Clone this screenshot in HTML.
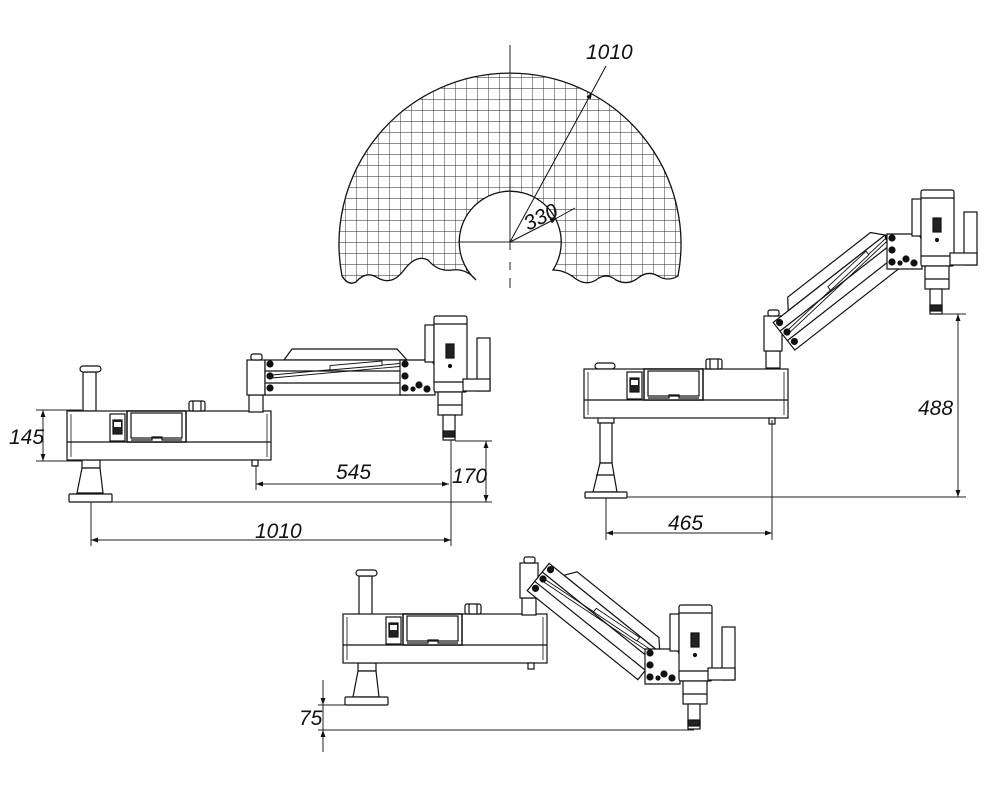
<!DOCTYPE html>
<html><head><meta charset="utf-8"><style>
html,body{margin:0;padding:0;background:#fff;}
svg{display:block;}
text{font-family:"Liberation Sans",sans-serif;font-style:italic;font-size:21px;fill:#111;}
</style></head><body>
<svg width="1000" height="790" viewBox="0 0 1000 790" xmlns="http://www.w3.org/2000/svg">
<defs>
<pattern id="grid" x="510" y="242" width="11" height="11" patternUnits="userSpaceOnUse">
<path d="M0 0H11M0 0V11" stroke="#222" stroke-width="0.9" fill="none"/>
</pattern>
<marker id="ar" viewBox="0 0 10 10" refX="10" refY="5" markerWidth="9" markerHeight="7" orient="auto-start-reverse" markerUnits="userSpaceOnUse">
<path d="M0 1.5L10 5L0 8.5z" fill="#111"/>
</marker>

<g id="box" stroke="#111" stroke-width="1.2" fill="#fff">
<rect x="0" y="0" width="204" height="49"/>
<line x1="0" y1="31" x2="204" y2="31"/>
<line x1="4" y1="3" x2="4" y2="46" stroke-width="0.8"/>
<line x1="200" y1="3" x2="200" y2="46" stroke-width="0.8"/>
<rect x="43" y="3" width="15" height="27"/>
<rect x="46" y="9" width="9" height="14" fill="#222"/>
<rect x="47" y="11" width="7" height="5" fill="#fff" stroke="none"/>
<rect x="60" y="0" width="59" height="31" stroke-width="1.5"/>
<rect x="64" y="2" width="51" height="25"/>
<path d="M64 29H85V26H95V29H115" fill="none"/>
<rect x="122" y="-10" width="16" height="10" rx="2"/>
<line x1="126" y1="-10" x2="126" y2="0"/><line x1="134" y1="-10" x2="134" y2="0"/>
<rect x="185" y="49" width="6" height="6"/>
</g>

<g id="col" stroke="#111" stroke-width="1.2" fill="#fff">
<rect x="-21" y="19" width="14" height="17"/>
<rect x="-23" y="-16" width="18" height="35"/>
<rect x="-19" y="-22" width="11" height="6" rx="2"/>
</g>

<g id="arm" stroke="#111" stroke-width="1.2" fill="#fff">
<path d="M14 -16 L22 -27 H127 L137 -16 Z"/>
<rect x="-5" y="-16" width="142" height="35"/>
<line x1="-5" y1="-5" x2="137" y2="-5"/>
<line x1="-5" y1="7" x2="137" y2="7"/>
<line x1="2" y1="-1" x2="135" y2="-13" stroke-width="0.9"/>
<line x1="2" y1="2" x2="135" y2="-10" stroke-width="0.9"/>
<path d="M60 -6 L112 -10.5 L112 -15 L60 -10.5 Z" stroke-width="0.9"/>
<circle cx="138" cy="-12" r="3" fill="#111"/>
<circle cx="0" cy="-12" r="3" fill="#111"/>
<circle cx="0" cy="0" r="3" fill="#111"/>
<circle cx="0" cy="12" r="3" fill="#111"/>
</g>

<g id="head" stroke="#111" stroke-width="1.2" fill="#fff">
<path d="M-49 -80 H-22 Q-14 -80 -14 -70 V-45 H-49 Z"/>
<circle cx="-44" cy="-76" r="3" fill="#111"/>
<circle cx="-44" cy="-64" r="3" fill="#111"/>
<circle cx="-44" cy="-52" r="3" fill="#111"/>
<circle cx="-30" cy="-55" r="3" fill="#111"/>
<circle cx="-22" cy="-51" r="3" fill="#111"/>
<circle cx="-36" cy="-51" r="2" fill="#111"/>
<rect x="-24" y="-115" width="9" height="37"/>
<rect x="-15" y="-124" width="33" height="76" rx="2"/>
<line x1="-15" y1="-116" x2="18" y2="-116"/>
<line x1="-15" y1="-58" x2="18" y2="-58"/>
<rect x="-3" y="-96" width="8" height="14" fill="#222"/>
<circle cx="1" cy="-74" r="1.5" fill="#111"/>
<rect x="28" y="-102" width="13" height="53"/>
<rect x="14" y="-61" width="27" height="12"/>
<rect x="-11" y="-48" width="24" height="23"/>
<line x1="-11" y1="-35" x2="13" y2="-35"/>
<rect x="-6" y="-25" width="12" height="25"/>
<rect x="-6" y="-9" width="12" height="6" fill="#222"/>
</g>
</defs>

<!-- ===== top: reach area ===== -->
<path fill="url(#grid)" stroke="#111" stroke-width="1.3"
d="M342 276 A171 171 0 1 1 678 276 Q668 282 658 276 Q648 270 638 278 Q628 286 616 280 Q606 272 596 280 Q586 286 576 279 Q565 270 553 270 A51 51 0 1 0 476 280 Q466 268 452 270 Q438 272 428 260 Q416 254 404 270 Q392 286 378 278 Q366 270 356 282 Q348 286 342 276 Z"/>
<line x1="510" y1="45" x2="510" y2="250" stroke="#222" stroke-width="1"/>
<line x1="510" y1="262" x2="510" y2="270" stroke="#222" stroke-width="1"/>
<line x1="510" y1="278" x2="510" y2="288" stroke="#222" stroke-width="1"/>
<line x1="458" y1="242" x2="562" y2="242" stroke="#222" stroke-width="1"/>
<line x1="510" y1="242" x2="592" y2="92" stroke="#111" stroke-width="1" marker-end="url(#ar)"/>
<line x1="592" y1="92" x2="606" y2="66" stroke="#111" stroke-width="1"/>
<line x1="510" y1="242" x2="557" y2="218" stroke="#111" stroke-width="1" marker-end="url(#ar)"/>
<line x1="557" y1="218" x2="575" y2="208" stroke="#111" stroke-width="1"/>
<text x="586" y="59">1010</text>
<text x="0" y="0" transform="translate(528 231) rotate(-26)">330</text>

<!-- ===== figure 1 ===== -->
<g stroke="#111" stroke-width="1.2" fill="#fff">
<rect x="83" y="372" width="13" height="39"/>
<rect x="80" y="366" width="21" height="6" rx="3"/>
<rect x="82" y="460" width="18" height="8"/>
<path d="M82 468 H100 L103 493 H77 Z"/>
<rect x="69" y="494" width="43" height="8" rx="1"/>
</g>
<use href="#box" x="67" y="411"/>
<use href="#col" x="270" y="376"/>
<use href="#arm" transform="translate(270 376)"/>
<use href="#head" x="449" y="440"/>
<g stroke="#222" stroke-width="1" fill="none">
<line x1="36" y1="410" x2="82" y2="410"/><line x1="36" y1="461" x2="82" y2="461"/>
<line x1="43" y1="410" x2="43" y2="461" marker-start="url(#ar)" marker-end="url(#ar)"/>
<line x1="256" y1="465" x2="256" y2="490"/>
<line x1="256" y1="484" x2="449" y2="484" marker-start="url(#ar)" marker-end="url(#ar)"/>
<line x1="455" y1="441" x2="492" y2="441"/>
<line x1="112" y1="502" x2="492" y2="502"/>
<line x1="486" y1="441" x2="486" y2="502" marker-start="url(#ar)" marker-end="url(#ar)"/>
<line x1="91" y1="502" x2="91" y2="546"/>
<line x1="451" y1="440" x2="451" y2="546"/>
<line x1="91" y1="540" x2="451" y2="540" marker-start="url(#ar)" marker-end="url(#ar)"/>
</g>
<text x="9" y="444">145</text>
<text x="336" y="479">545</text>
<text x="452" y="483">170</text>
<text x="255" y="538">1010</text>

<!-- ===== figure 2 ===== -->
<g stroke="#111" stroke-width="1.2" fill="#fff">
<rect x="595" y="363" width="20" height="6" rx="3"/>
<rect x="598" y="417" width="16" height="6"/>
<rect x="600" y="423" width="12" height="40"/>
<path d="M600 463 H612 L617 492 H593 Z"/>
<line x1="596" y1="475" x2="614" y2="475"/>
<rect x="585" y="492" width="42" height="6" rx="1"/>
</g>
<use href="#box" x="584" y="369"/>
<use href="#col" x="787" y="332"/>
<use href="#arm" transform="translate(787 332) rotate(-38)"/>
<use href="#head" x="936" y="314"/>
<g stroke="#222" stroke-width="1" fill="none">
<line x1="942" y1="314" x2="966" y2="314"/>
<line x1="627" y1="497" x2="966" y2="497"/>
<line x1="958" y1="314" x2="958" y2="497" marker-start="url(#ar)" marker-end="url(#ar)"/>
<line x1="606" y1="498" x2="606" y2="540"/>
<line x1="772" y1="420" x2="772" y2="540"/>
<line x1="606" y1="533" x2="772" y2="533" marker-start="url(#ar)" marker-end="url(#ar)"/>
</g>
<text x="918" y="415">488</text>
<text x="668" y="530">465</text>

<!-- ===== figure 3 ===== -->
<g stroke="#111" stroke-width="1.2" fill="#fff">
<rect x="359" y="576" width="13" height="39"/>
<rect x="356" y="570" width="21" height="6" rx="3"/>
<rect x="358" y="663" width="18" height="8"/>
<path d="M358 671 H376 L379 697 H353 Z"/>
<rect x="345" y="697" width="43" height="8" rx="1"/>
</g>
<use href="#box" x="343" y="614"/>
<use href="#col" x="543" y="579"/>
<use href="#arm" transform="translate(543 579) rotate(38.8)"/>
<use href="#head" x="694" y="729"/>
<g stroke="#222" stroke-width="1" fill="none">
<line x1="323" y1="680" x2="323" y2="705" marker-end="url(#ar)"/>
<line x1="323" y1="752" x2="323" y2="730" marker-end="url(#ar)"/>
<line x1="323" y1="705" x2="323" y2="730"/>
<line x1="318" y1="705" x2="345" y2="705"/>
<line x1="318" y1="730" x2="694" y2="730"/>
</g>
<text x="299" y="725">75</text>
</svg>
</body></html>
